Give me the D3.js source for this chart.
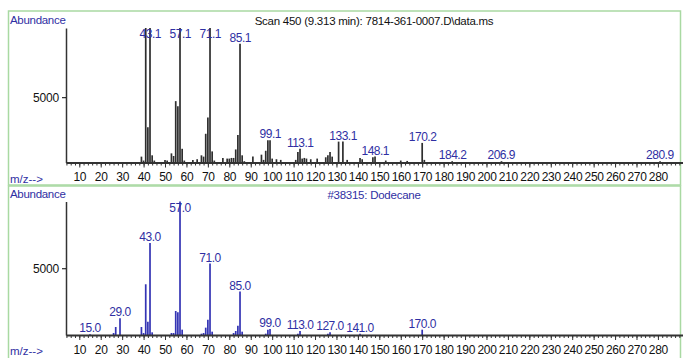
<!DOCTYPE html>
<html>
<head>
<meta charset="utf-8">
<script src="https://cdn.jsdelivr.net/npm/d3@7"></script>
<style>
  body { margin: 0; background: #fff; }
  text { font-family: "Liberation Sans", Arial, sans-serif; }
</style>
</head>
<body>
<script>
// Scan spectrum (upper panel)
const scanMz = [39, 40, 41, 42, 43, 44, 45, 50, 51, 53, 54, 55, 56, 57, 58, 59, 63, 65, 67, 68, 69, 70, 71, 72, 73,
  77, 79, 80, 81, 82, 83, 84, 85, 86, 87, 91, 95, 96, 97, 98, 99, 100, 102, 104, 111, 112, 113, 114, 115, 116, 118,
  121, 125, 126, 127, 128, 131, 133, 135, 141, 142, 147, 148, 153, 160, 163, 170, 171, 184, 207, 281];
const scanAbund = [450, 150, 10500, 2700, 10500, 550, 150, 200, 150, 700, 500, 4700, 4300, 10500, 1050, 150, 200, 250, 550, 450, 2200, 3450, 10500, 850, 150,
  350, 300, 300, 350, 350, 1000, 2100, 9100, 550, 100, 450, 600, 200, 900, 1700, 1700, 300, 250, 200, 200, 800, 1050, 300, 350, 300, 250,
  300, 400, 550, 800, 450, 1600, 1600, 200, 350, 250, 400, 450, 150, 150, 120, 1500, 200, 100, 100, 100];
const scanLabels = ["43.1", "57.1", "71.1", "85.1", "99.1", "113.1", "133.1", "148.1", "170.2", "184.2", "206.9", "280.9"];

// Library spectrum (lower panel)
const libMz = [15, 26, 27, 29, 39, 40, 41, 42, 43, 44, 53, 54, 55, 56, 57, 58, 67, 68, 69, 70, 71, 72,
  82, 83, 84, 85, 86, 97, 98, 99, 112, 113, 126, 127, 141, 170];
const libAbund = [60, 150, 600, 1250, 600, 150, 3800, 1000, 6900, 200, 150, 150, 1800, 1700, 10000, 400, 100, 150, 550, 1150, 5350, 250,
  150, 300, 700, 3250, 250, 100, 400, 450, 100, 300, 100, 200, 100, 400];
const libLabels = ["15.0", "29.0", "43.0", "57.0", "71.0", "85.0", "99.0", "113.0", "127.0", "141.0", "170.0"];

const xTicks = d3.range(10, 290, 10);
const yTicks = [5000];

const W = 683, H = 358;
const blue = "#2f2fa3";
const svg = d3.select("body").append("svg").attr("width", W).attr("height", H);

// green panel frames
svg.append("rect").attr("x", 8.5).attr("y", 11).attr("width", 672).attr("height", 174)
  .attr("fill", "none").attr("stroke", "#a9d9a2").attr("stroke-width", 1.5);
svg.append("rect").attr("x", 8.5).attr("y", 186).attr("width", 672).attr("height", 180)
  .attr("fill", "none").attr("stroke", "#a9d9a2").attr("stroke-width", 1.5);

const x = d3.scaleLinear().domain([3.8, 291.7]).range([66, 683]);

function drawPanel(p) {
  const g = svg.append("g");
  const y = d3.scaleLinear().domain([0, p.yMax]).range([p.base, p.top]).clamp(true);

  // bars
  g.selectAll("line.bar")
    .data(p.mz.map((m, i) => ({ m, v: p.ab[i] })))
    .enter().append("line")
    .attr("x1", d => x(d.m)).attr("x2", d => x(d.m))
    .attr("y1", p.base).attr("y2", d => y(d.v))
    .attr("stroke", p.barColor).attr("stroke-width", 1.7);

  // x axis (major + minor)
  const xa = g.append("g").attr("transform", `translate(0,${p.base})`)
    .call(d3.axisBottom(x).tickValues(xTicks).tickSize(5).tickSizeOuter(0).tickPadding(5));
  g.append("g").attr("transform", `translate(0,${p.base})`)
    .call(d3.axisBottom(x).tickValues(d3.range(4, 292, 2)).tickSize(3).tickSizeOuter(0).tickFormat(""))
    .select(".domain").remove();
  xa.select(".domain").attr("stroke", "#333").attr("stroke-width", 2);
  xa.selectAll("text").attr("font-size", 12).attr("fill", "#111").attr("letter-spacing", -0.3).attr("dy", "0.72em");
  g.selectAll(".tick line").attr("stroke", "#333");

  // y axis
  const ya = g.append("g").attr("transform", "translate(66,0)")
    .call(d3.axisLeft(y).tickValues(yTicks).tickSize(4).tickSizeOuter(0).tickFormat(d3.format("d")));
  ya.select(".domain").attr("stroke", "#333").attr("stroke-width", 1.5);
  ya.selectAll("text").attr("font-size", 12).attr("fill", "#111").attr("letter-spacing", -0.2);

  // peak labels
  g.selectAll("text.pk")
    .data(p.labels)
    .enter().append("text")
    .attr("x", d => x(+d))
    .attr("y", d => {
      const i = p.mz.indexOf(Math.round(+d));
      return Math.max(y(p.ab[i]) - 2, p.top + 10);
    })
    .attr("text-anchor", "middle")
    .attr("font-size", 12).attr("letter-spacing", -0.5)
    .attr("fill", blue)
    .text(d => d);

  g.append("text").attr("x", 10).attr("y", p.top - 4)
    .attr("font-size", 11.5).attr("fill", blue).attr("letter-spacing", -0.3).text("Abundance");
  g.append("text").attr("x", 10).attr("y", p.base + 20)
    .attr("font-size", 11.5).attr("fill", blue).text("m/z-->");
  g.append("text").attr("x", 374).attr("y", p.top - 3).attr("text-anchor", "middle")
    .attr("font-size", 11.5).attr("letter-spacing", -0.25).attr("fill", p.titleColor).text(p.title);
}

drawPanel({
  mz: scanMz, ab: scanAbund, labels: scanLabels,
  base: 162.5, top: 28, yMax: 10300,
  barColor: "#2e2e2e", titleColor: "#111",
  title: "Scan 450 (9.313 min): 7814-361-0007.D\\data.ms"
});
drawPanel({
  mz: libMz, ab: libAbund, labels: libLabels,
  base: 335, top: 201.5, yMax: 10000,
  barColor: "#3434b4", titleColor: blue,
  title: "#38315: Dodecane"
});
</script>
</body>
</html>
